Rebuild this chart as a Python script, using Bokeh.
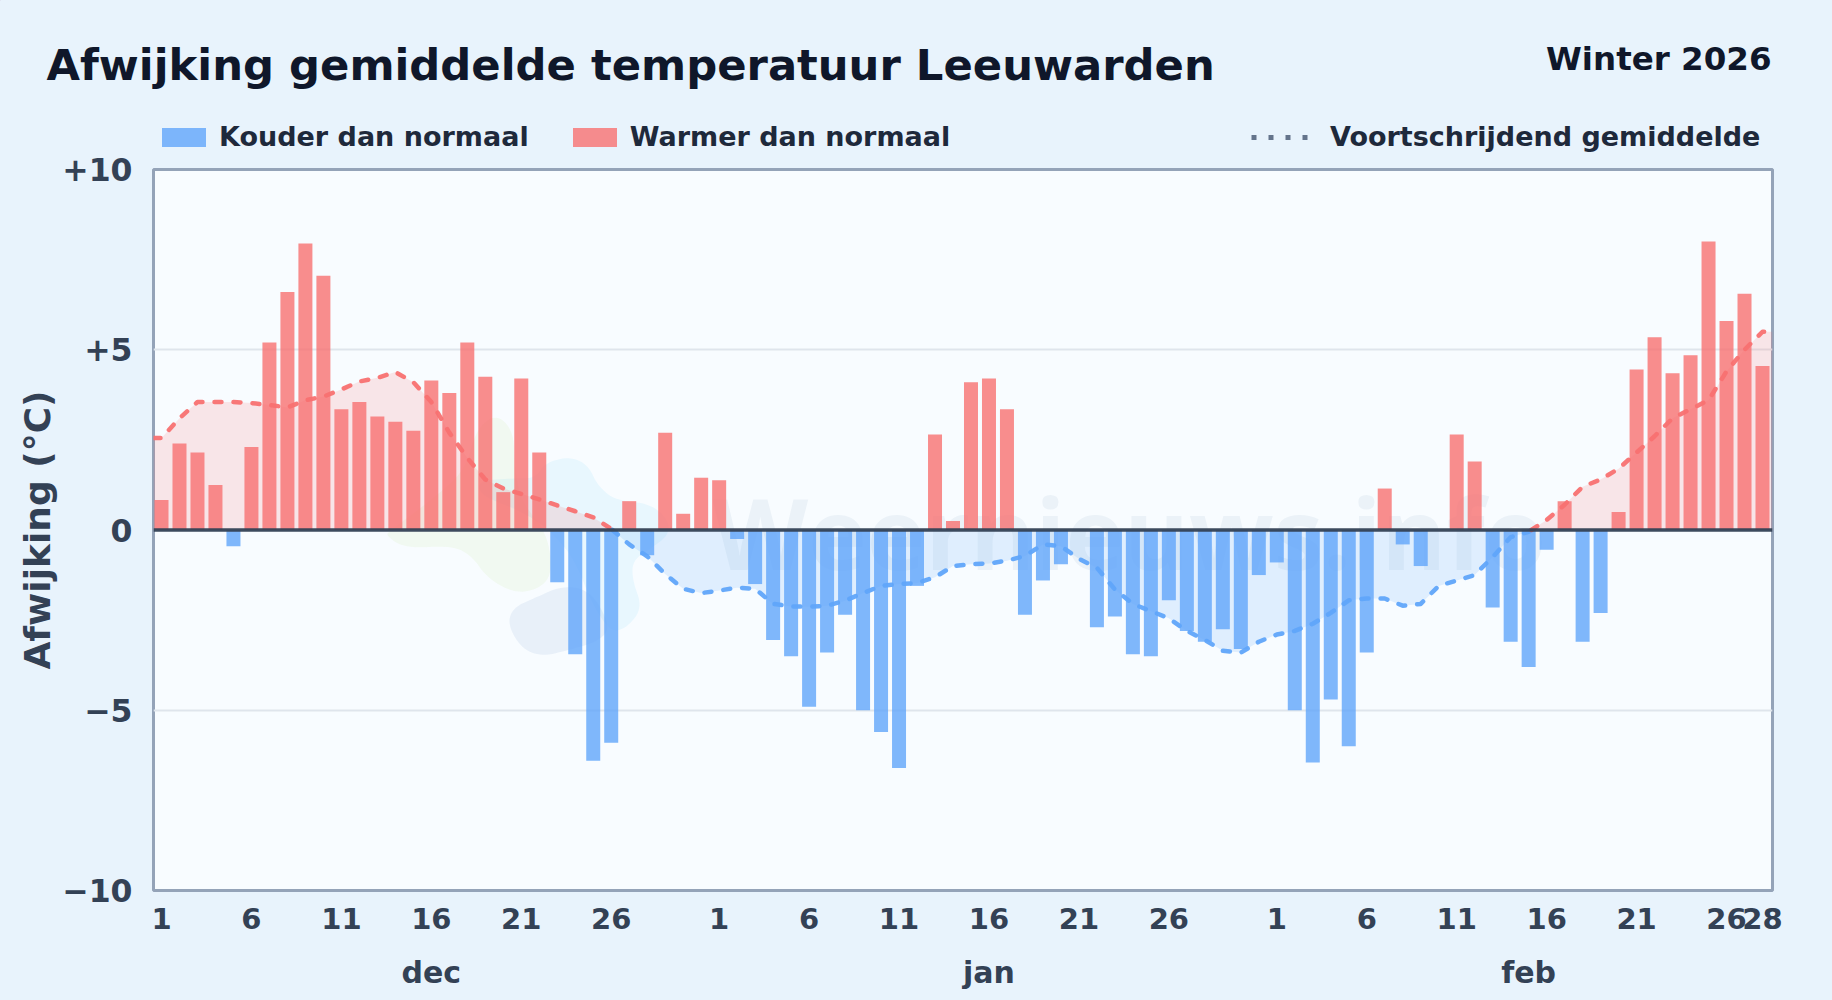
from bokeh.core.properties import value
from bokeh.embed import file_html
from bokeh.layouts import column, row
from bokeh.models import (ColumnDataSource, FixedTicker, Label, Legend, LegendItem,
                          LinearAxis, Range1d, Span)
from bokeh.plotting import figure
from bokeh.resources import INLINE

# ---------- data ----------
dec = [0.83, 2.4, 2.15, 1.25, -0.45, 2.3, 5.2, 6.6, 7.95, 7.05, 3.35, 3.55, 3.15, 3.0, 2.75, 4.15,
       3.8, 5.2, 4.25, 1.05, 4.2, 2.15, -1.45, -3.45, -6.4, -5.9, 0.8, -0.7, 2.7, 0.45, 1.45]
jan = [1.38, -0.25, -1.5, -3.05, -3.5, -4.9, -3.4, -2.35, -5.0, -5.6, -6.6, -1.55, 2.65, 0.25, 4.1, 4.2,
       3.35, -2.35, -1.4, -0.95, 0.0, -2.7, -2.4, -3.45, -3.5, -1.95, -2.8, -3.1, -2.75, -3.3, -1.25]
feb = [-0.9, -5.0, -6.45, -4.7, -6.0, -3.4, 1.15, -0.4, -1.0, 0.0, 2.65, 1.9, -2.15, -3.1, -3.8, -0.55,
       0.8, -3.1, -2.3, 0.5, 4.45, 5.35, 4.35, 4.85, 8.0, 5.8, 6.55, 4.55]
rolling = [2.55, 3.1, 3.55, 3.55, 3.55, 3.52, 3.47, 3.4, 3.6, 3.7, 3.9, 4.12, 4.22, 4.38, 4.1, 3.55,
           2.7, 2.0, 1.4, 1.15, 1.0, 0.85, 0.68, 0.52, 0.35, 0.03, -0.4, -0.73, -1.22, -1.63, -1.75,
           -1.68, -1.6, -1.63, -2.05, -2.12, -2.13, -2.1, -1.96, -1.75, -1.55, -1.5, -1.47, -1.31, -1.0,
           -0.95, -0.93, -0.85, -0.72, -0.4, -0.45, -0.8, -1.05, -1.65, -2.05, -2.25, -2.45, -2.8, -3.05,
           -3.35, -3.4, -3.1, -2.9, -2.8, -2.6, -2.3, -1.95, -1.9, -1.9, -2.1, -2.05, -1.55, -1.4, -1.25,
           -0.75, -0.2, -0.05, 0.28, 0.7, 1.2, 1.4, 1.7, 2.15, 2.6, 3.1, 3.35, 3.6, 4.4, 5.0, 5.5]
month_names = ["dec", "jan", "feb"]
day_ticks = [1, 6, 11, 16, 21, 26]
y_labels = {10: "+10", 5: "+5", 0: "0", -5: "\u22125", -10: "\u221210"}

values = dec + jan + feb
offsets = [0, len(dec), len(dec) + len(jan)]

FONT = "DejaVu Sans"
BG, PLOT_BG = "#e8f3fc", "#f8fcff"
RED, BLUE = "#f87171", "#60a5fa"
BAR_ALPHA = 0.8

# page geometry
W, H, HEAD = 1832, 1000, 155
L, R, T, B = 153, 1772, 169, 890
step = 17.99
x0 = -(161 - L) / step
x1 = 89 + (R - 1762) / step

# ---------- header: title and legend ----------
head = figure(width=W, height=HEAD, output_backend="svg", toolbar_location=None,
              x_range=Range1d(0, W), y_range=Range1d(HEAD, 0), x_axis_type=None, y_axis_type=None,
              min_border=0, background_fill_color=BG, border_fill_color=BG, outline_line_color=None)
head.grid.visible = False
head.add_layout(Label(x=46, y=64, text="Afwijking gemiddelde temperatuur Leeuwarden", text_font=FONT,
                      text_font_style="bold", text_font_size="43.3px", text_color="#0f172a",
                      text_baseline="alphabetic"))
head.add_layout(Label(x=1771, y=58.5, text="Winter 2026", text_font=FONT, text_font_style="bold",
                      text_font_size="32.5px", text_color="#0f172a", text_align="right",
                      text_baseline="alphabetic"))
# legend keys only: one row lying outside the visible header range
key = ColumnDataSource(dict(x=[-500], top=[-500]))
h_cold = head.vbar(x="x", top="top", bottom=-600, width=1, source=key, fill_color=BLUE, fill_alpha=BAR_ALPHA, line_color=None)
h_warm = head.vbar(x="x", top="top", bottom=-600, width=1, source=key, fill_color=RED, fill_alpha=BAR_ALPHA, line_color=None)
h_roll = head.line(x="x", y="top", source=key, line_color="#64748b", line_width=5, line_dash="5 12")
leg_style = dict(orientation="horizontal", background_fill_alpha=0, border_line_alpha=0, padding=0, margin=0,
                 label_text_font=FONT, label_text_font_style="bold", label_text_font_size="27px",
                 label_text_color="#1e293b", spacing=38, glyph_height=24)
head.add_layout(Legend(items=[LegendItem(label="Kouder dan normaal", renderers=[h_cold]),
                              LegendItem(label="Warmer dan normaal", renderers=[h_warm])],
                       location=(156, 3), glyph_width=55, label_standoff=8, **leg_style), "center")
head.add_layout(Legend(items=[LegendItem(label="Voortschrijdend gemiddelde", renderers=[h_roll])],
                       location=(1251, 3), glyph_width=60, label_standoff=19, **leg_style), "center")

# ---------- chart ----------
p = figure(width=W, height=H - HEAD, output_backend="svg", toolbar_location=None,
           x_range=Range1d(x0, x1), y_range=Range1d(-10, 10),
           min_border_left=L, min_border_right=W - R, min_border_top=T - HEAD, min_border_bottom=H - B,
           background_fill_color=PLOT_BG, border_fill_color=BG,
           outline_line_color="#94a3b8", outline_line_width=3, x_axis_type=None)
dx = lambda px: x0 + (px - L) / step
dy = lambda py: 10 - (py - T) * 20.0 / (B - T)


def smooth(pts, n=3):
    for _ in range(n):
        out = []
        for i, a in enumerate(pts):
            b = pts[(i + 1) % len(pts)]
            out += [(0.75 * a[0] + 0.25 * b[0], 0.75 * a[1] + 0.25 * b[1]),
                    (0.25 * a[0] + 0.75 * b[0], 0.25 * a[1] + 0.75 * b[1])]
        pts = out
    return pts


# faint watermark logo + text
logo = [
    ("#84cc16", 0.06, [(390, 530), (430, 500), (465, 470), (475, 430), (495, 413), (513, 430), (514, 465), (520, 500),
                       (545, 530), (552, 565), (545, 585), (517, 594), (487, 578), (472, 556), (452, 545), (405, 548), (385, 535)]),
    ("#38bdf8", 0.08, [(545, 462), (570, 456), (588, 465), (597, 485), (615, 500), (650, 503), (668, 520), (668, 535),
                       (650, 548), (632, 560), (632, 580), (642, 607), (627, 627), (610, 632), (590, 600), (575, 560),
                       (550, 530), (520, 510), (480, 495), (478, 480), (510, 478), (535, 478)]),
    ("#1e5aa8", 0.07, [(507, 623), (513, 607), (533, 598), (562, 585), (590, 590), (610, 625), (600, 640), (567, 650),
                       (540, 656), (520, 647)]),
]
for col, alpha, pts in logo:
    s = smooth(pts)
    p.patch([dx(a) for a, _ in s], [dy(b) for _, b in s], fill_color=col, fill_alpha=alpha, line_color=None)
p.text(x=[dx(712)], y=[dy(531)], text=["Weernieuws.info"], text_font=value("Open Sans"), text_font_style="bold",
       text_font_size="99px", text_color="#1e4e8c", text_alpha=0.06, text_baseline="alphabetic")

# rolling mean, split in a warm and a cold part at every zero crossing
xs = [x0] + list(range(len(rolling))) + [x1]
ys = [rolling[0]] + rolling + [rolling[-1]]
segments = []
cur_x, cur_y = [xs[0]], [ys[0]]
for i in range(1, len(xs)):
    if ys[i - 1] * ys[i] < 0:
        t = ys[i - 1] / (ys[i - 1] - ys[i])
        xc = xs[i - 1] + t * (xs[i] - xs[i - 1])
        cur_x.append(xc); cur_y.append(0.0)
        segments.append((cur_x, cur_y))
        cur_x, cur_y = [xc, xs[i]], [0.0, ys[i]]
    else:
        cur_x.append(xs[i]); cur_y.append(ys[i])
segments.append((cur_x, cur_y))

for sxs, sys_ in segments:
    col = RED if sum(sys_) > 0 else BLUE
    p.varea(x=sxs, y1=[0.0] * len(sxs), y2=sys_, fill_color=col, fill_alpha=0.16)

# bars
idx = list(range(len(values)))
cold = ColumnDataSource(dict(x=[i for i in idx if values[i] < 0], top=[values[i] for i in idx if values[i] < 0]))
warm = ColumnDataSource(dict(x=[i for i in idx if values[i] > 0], top=[values[i] for i in idx if values[i] > 0]))
bar_w = 14 / step
p.vbar(x="x", top="top", bottom=0, width=bar_w, source=cold, fill_color=BLUE, fill_alpha=BAR_ALPHA, line_color=None)
p.vbar(x="x", top="top", bottom=0, width=bar_w, source=warm, fill_color=RED, fill_alpha=BAR_ALPHA, line_color=None)

for sxs, sys_ in segments:
    col = RED if sum(sys_) > 0 else BLUE
    p.line(sxs, sys_, line_color=col, line_width=4.5, line_dash="7 12", line_cap="round", line_join="round", line_alpha=0.95)

p.add_layout(Span(location=0, dimension="width", line_color="#334155", line_width=3.5, line_alpha=0.95, level="overlay"))

# axes
AXIS = "#334155"
day_pos, day_txt = [], []
for off in offsets:
    for d in day_ticks:
        day_pos.append(off + d - 1)
        day_txt.append(str(d))
day_pos.append(len(values) - 1)
day_txt.append(str(len(feb)))
xa = LinearAxis(ticker=FixedTicker(ticks=day_pos), major_label_overrides=dict(zip(day_pos, day_txt)),
                axis_line_color=None, major_tick_line_color=None, minor_tick_line_color=None,
                major_label_text_font=FONT, major_label_text_font_style="bold", major_label_text_font_size="29px",
                major_label_text_color=AXIS, major_label_standoff=11)
p.add_layout(xa, "below")
month_pos = [15, 46, 76]
ma = LinearAxis(ticker=FixedTicker(ticks=month_pos), major_label_overrides=dict(zip(month_pos, month_names)),
                axis_line_color=None, major_tick_line_color=None, minor_tick_line_color=None,
                major_label_text_font=FONT, major_label_text_font_style="bold", major_label_text_font_size="30px",
                major_label_text_color=AXIS, major_label_standoff=17)
p.add_layout(ma, "below")

ya = p.yaxis[0]
ya.ticker = FixedTicker(ticks=list(y_labels))
ya.major_label_overrides = y_labels
ya.axis_line_color = None
ya.major_tick_line_color = None
ya.minor_tick_line_color = None
ya.major_label_text_font = FONT
ya.major_label_text_font_style = "bold"
ya.major_label_text_font_size = "31.5px"
ya.major_label_text_color = AXIS
ya.major_label_standoff = 15
ya.axis_label = "Afwijking (\u00b0C)"
ya.axis_label_text_font = FONT
ya.axis_label_text_font_style = "bold"
ya.axis_label_text_font_size = "36px"
ya.axis_label_text_color = AXIS
ya.axis_label_standoff = 1

p.ygrid[0].ticker = FixedTicker(ticks=[-5, 5])
p.ygrid[0].grid_line_color = "#dfe5ec"
p.ygrid[0].grid_line_width = 2
p.xgrid.visible = False

page = column(row(head, spacing=0), p, spacing=0)
html = file_html(page, INLINE)
html = html.replace("</head>", "<style>html,body{background:%s}</style></head>" % BG, 1)
open("out.html", "w").write(html)
